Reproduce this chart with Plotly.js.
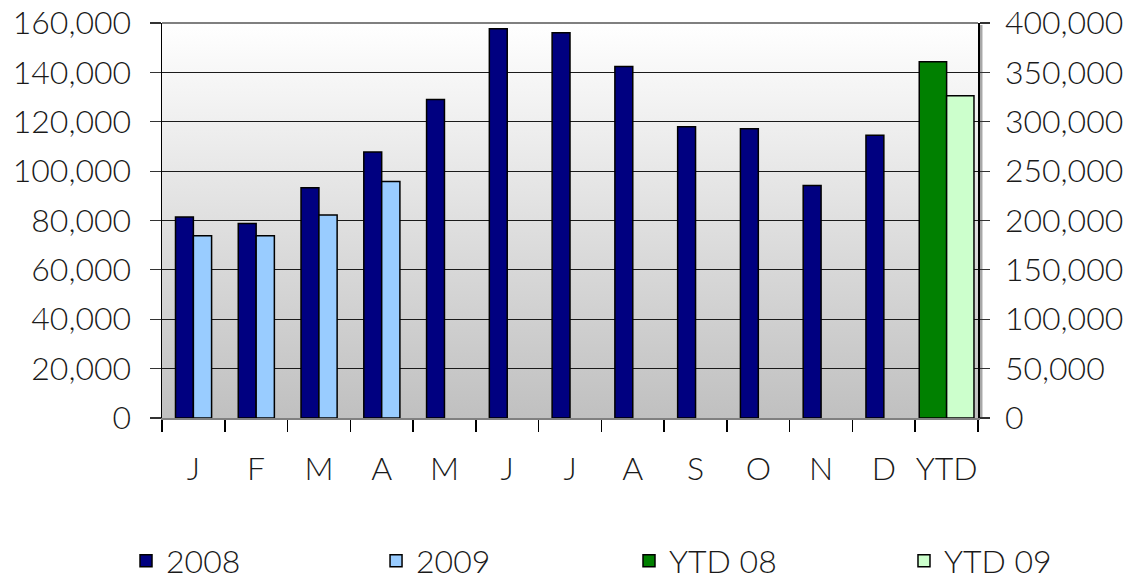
<!DOCTYPE html>
<html>
<head>
<meta charset="utf-8">
<script src="https://cdn.plot.ly/plotly-3.0.1.min.js"></script>
<style>
html,body{margin:0;padding:0;background:#fff;}
#chart{width:1138px;height:579px;}
</style>
</head>
<body>
<div id="chart"></div>
<script>
// ---- data ----
var categories = ['Jan','Feb','Mar','Apr','May','Jun','Jul','Aug','Sep','Oct','Nov','Dec','YTD'];
var tickLabels = ['J','F','M','A','M','J','J','A','S','O','N','D','YTD'];
var values2008 = [81400, 78800, 93300, 107700, 129000, 157700, 156100, 142400, 118000, 117200, 94200, 114500, null];
var values2009 = [73800, 73800, 82200, 95800, null, null, null, null, null, null, null, null, null];
var valuesYTD08 = [null, null, null, null, null, null, null, null, null, null, null, null, 360800];
var valuesYTD09 = [null, null, null, null, null, null, null, null, null, null, null, null, 326400];
var seriesNames = ['2008', '2009', 'YTD 08', 'YTD 09'];

var FONTFAM = 'Lato, "DejaVu Sans", sans-serif';
var TXT = '#1a1a1a';
function F(size) { return {family: FONTFAM, size: size, color: TXT, weight: 300}; }
var alias = {};
categories.forEach(function(c, i){ alias[c] = tickLabels[i]; });

var barLine = {color: '#000000', width: 1.5};
var traces = [
  {type:'bar', name: seriesNames[0], x: categories, y: values2008, yaxis:'y', legend:'legend',
   width: 0.285, offset: -0.285, marker:{color:'#000080', line: barLine}},
  {type:'bar', name: seriesNames[1], x: categories, y: values2009, yaxis:'y', legend:'legend2',
   width: 0.29, offset: 0, marker:{color:'#99CCFF', line: barLine}},
  {type:'bar', name: seriesNames[2], x: categories, y: valuesYTD08, yaxis:'y2', legend:'legend3',
   width: 0.436, offset: -0.436, marker:{color:'#008000', line: barLine}},
  {type:'bar', name: seriesNames[3], x: categories, y: valuesYTD09, yaxis:'y2', legend:'legend4',
   width: 0.436, offset: 0, marker:{color:'#CCFFCC', line: barLine}}
];

var bgSvg = '<svg xmlns="http://www.w3.org/2000/svg" width="100" height="100" preserveAspectRatio="none" viewBox="0 0 100 100">' +
  '<defs><linearGradient id="g" x1="0" y1="0" x2="0" y2="1">' +
  '<stop offset="0" stop-color="#ffffff"/><stop offset="1" stop-color="#c0c0c0"/></linearGradient></defs>' +
  '<rect x="0" y="0" width="100" height="100" fill="url(#g)"/></svg>';

function legendAt(x) {
  return {
    orientation: 'h', x: x, xanchor: 'left', y: -0.362, yanchor: 'middle',
    itemwidth: 30,
    font: F(32),
    bgcolor: 'rgba(0,0,0,0)'
  };
}

var layout = {
  width: 1138, height: 579,
  margin: {l:162, r:160, t:23, b:161, pad:0, autoexpand:false},
  paper_bgcolor: '#ffffff',
  plot_bgcolor: '#e0e0e0',
  barmode: 'overlay',
  showlegend: true,
  font: F(32),
  xaxis: {
    type: 'category',
    tickmode: 'linear', tick0: 0, dtick: 1,
    labelalias: alias,
    tickson: 'boundaries',
    tickangle: 0,
    ticks: 'outside', ticklen: 12, tickwidth: 1.5, tickcolor: '#000000',
    ticklabelstandoff: 22,
    showline: true, linecolor: '#808080', linewidth: 2,
    showgrid: false, zeroline: false, automargin: false,
    tickfont: F(32),
    range: [-0.5, 12.5], fixedrange: true
  },
  yaxis: {
    range: [0, 160000], dtick: 20000, tick0: 0,
    tickformat: ',d',
    ticks: 'outside', ticklen: 11, tickwidth: 1.2, tickcolor: '#333333',
    ticklabelstandoff: 12,
    showline: true, linecolor: '#000000', linewidth: 1.5,
    showgrid: true, gridcolor: '#1a1a1a', gridwidth: 1,
    zeroline: false, automargin: false,
    tickfont: F(32),
    fixedrange: true
  },
  yaxis2: {
    overlaying: 'y', side: 'right',
    range: [0, 400000], dtick: 50000, tick0: 0,
    tickformat: ',d',
    ticks: 'outside', ticklen: 10, tickwidth: 1.2, tickcolor: '#333333',
    ticklabelstandoff: 9,
    showline: true, linecolor: '#000000', linewidth: 1.5,
    showgrid: false, zeroline: false, automargin: false,
    tickfont: F(32),
    fixedrange: true
  },
  yaxis3: {
    overlaying: 'y', side: 'right',
    range: [0, 400000], dtick: 50000, tick0: 0,
    ticks: 'inside', ticklen: 10, tickwidth: 1.2, tickcolor: '#333333',
    showticklabels: false, showline: false,
    showgrid: false, zeroline: false, automargin: false,
    fixedrange: true
  },
  legend: legendAt(-0.0441),
  legend2: legendAt(0.2623),
  legend3: legendAt(0.5723),
  legend4: legendAt(0.9093),
  images: [{
    source: 'data:image/svg+xml;charset=utf-8,' + encodeURIComponent(bgSvg),
    xref: 'paper', yref: 'paper', x: 0, y: 1, sizex: 1, sizey: 1,
    xanchor: 'left', yanchor: 'top', sizing: 'stretch', layer: 'below'
  }],
  shapes: [
    {type:'line', xref:'paper', yref:'paper', x0:0, x1:1, y0:1, y1:1,
     line:{color:'#808080', width:2}},
    {type:'rect', xref:'paper', yref:'paper', x0:1.0015, x1:1.0055, y0:0, y1:0.995,
     fillcolor:'#a8a8a8', line:{width:0}, layer:'below'}
  ]
};

Plotly.newPlot('chart', traces, layout, {staticPlot: true, displayModeBar: false});
</script>
</body>
</html>
